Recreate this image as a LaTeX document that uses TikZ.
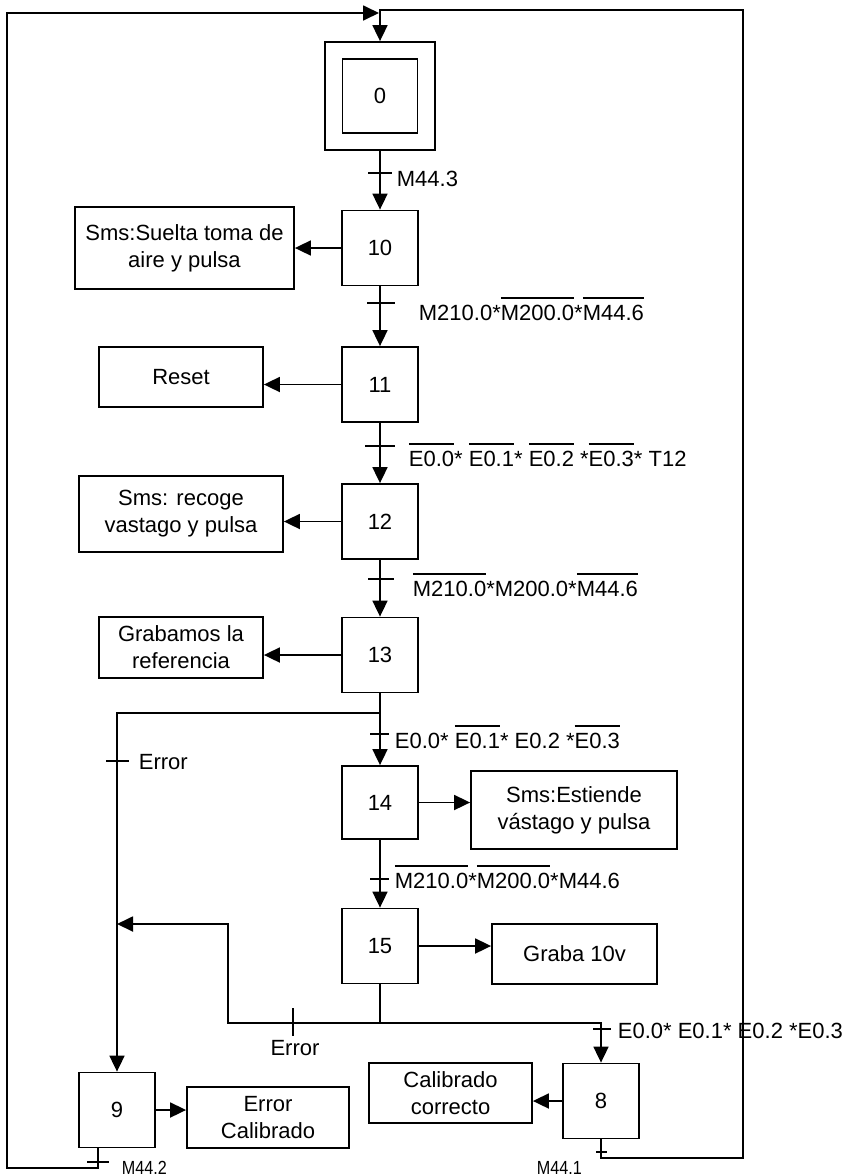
\documentclass[tikz,border=0pt]{standalone}
\usepackage{fontspec}
\setmainfont{Liberation Sans}
\newfontfamily\condfont[FakeStretch=0.85]{Liberation Sans}
\usetikzlibrary{arrows.meta}
\newcommand\ovl[1]{\setbox0\hbox{#1}\rlap{\rule[\dimexpr\ht0+6pt\relax]{\wd0}{1.4pt}}\box0}
\begin{document}
\begin{tikzpicture}[x=1pt,y=-1pt, line width=1.8pt,
  font=\fontsize{22}{27}\selectfont,
  stepbox/.style={draw, minimum width=76pt, minimum height=75pt, inner sep=0pt},
  actbox/.style={draw, align=center, inner sep=0pt},
  arr/.style={-{Triangle[length=16pt,width=15pt]}},
  lbl/.style={anchor=base west, inner sep=0pt},
  smalllbl/.style={anchor=base west, inner sep=0pt, font=\condfont\fontsize{19}{22}\selectfont}]
\useasboundingbox (0,0) rectangle (853,1176);

% steps
\node[stepbox, minimum width=110pt, minimum height=108pt] (s0o) at (380,96) {};
\node[stepbox, minimum width=75pt, minimum height=74pt] (s0) at (380,96) {0};
\node[stepbox] (s10) at (380,248) {10};
\node[stepbox] (s11) at (380,384.5) {11};
\node[stepbox] (s12) at (380,521.5) {12};
\node[stepbox] (s13) at (380,655) {13};
\node[stepbox, minimum height=73pt] (s14) at (380,802.5) {14};
\node[stepbox] (s15) at (380,946) {15};
\node[stepbox] (s9) at (117,1110) {9};
\node[stepbox] (s8) at (601,1101) {8};

% actions
\node[actbox, minimum width=219pt, minimum height=82pt] (a10) at (184.5,248) {Sms:Suelta toma de\\aire y pulsa};
\node[actbox, minimum width=164pt, minimum height=60pt] (a11) at (181,377) {Reset};
\node[actbox, minimum width=204pt, minimum height=76pt] (a12) at (181,514) {Sms: recoge\\vastago y pulsa};
\node[actbox, minimum width=164pt, minimum height=61pt] (a13) at (181,647.5) {Grabamos la\\referencia};
\node[actbox, minimum width=206pt, minimum height=78pt] (a14) at (574,810) {Sms:Estiende\\vástago y pulsa};
\node[actbox, minimum width=165pt, minimum height=60pt] (a15) at (574.5,954) {Graba 10v};
\node[actbox, minimum width=162pt, minimum height=61pt] (a9) at (268,1117.5) {Error\\Calibrado};
\node[actbox, minimum width=163pt, minimum height=60pt] (a8) at (450.5,1093) {Calibrado\\correcto};

% action arrows
\draw[arr] (s10.west) -- (s10.west -| a10.east);
\draw[arr] (s11.west) -- (s11.west -| a11.east);
\draw[arr] (s12.west) -- (s12.west -| a12.east);
\draw[arr] (s13.west) -- (s13.west -| a13.east);
\draw[arr] (s14.east) -- (s14.east -| a14.west);
\draw[arr] (s15.east) -- (s15.east -| a15.west);
\draw[arr] (s9.east) -- (s9.east -| a9.west);
\draw[arr] (s8.west) -- (s8.west -| a8.east);

% main sequence
\draw[arr] (s0o.south) -- (s10.north);
\draw[arr] (s10.south) -- (s11.north);
\draw[arr] (s11.south) -- (s12.north);
\draw[arr] (s12.south) -- (s13.north);
\coordinate (b13) at (380,713);
\draw (s13.south) -- (b13);
\draw[arr] (b13) -- (s14.north);
\draw[arr] (b13) -| (s9.north);
\draw[arr] (s14.south) -- (s15.north);
\coordinate (j15) at (380,1023);
\coordinate (e15) at (228,1023);
\coordinate (e15t) at (228,924);
\coordinate (e9) at (117,924);
\draw (s15.south) -- (j15);
\draw[arr] (j15) -- (e15) -- (e15t) -- (e9);
\draw[arr] (j15) -| (s8.north);

% loops back to step 0
\coordinate (s9b) at (98,1148);
\coordinate (s9c) at (98,1168);
\coordinate (ll) at (7,1168);
\coordinate (lt) at (7,13);
\coordinate (lend) at (379,13);
\draw[arr] (s9b) -- (s9c) -- (ll) -- (lt) -- (lend);
\coordinate (s8c) at (601,1158);
\coordinate (rb) at (743,1158);
\coordinate (rt) at (743,10);
\coordinate (top) at (380,10);
\draw[arr] (s8.south) -- (s8c) -- (rb) -- (rt) -- (top) -- (s0o.north);

% transition ticks
\draw (368,173) -- (392,173);
\draw (367,303) -- (395,303);
\draw (365,446) -- (395,446);
\draw (368,579) -- (394,579);
\draw (370,734) -- (389,734);
\draw (370,879) -- (389,879);
\draw (106,761) -- (129,761);
\draw (293,1008) -- (293,1036);
\draw (593,1029) -- (611,1029);
\draw (87,1162) -- (109,1162);
\draw (596,1152) -- (607,1152);

% transition labels
\node[lbl] (t1) at (396,186) {M44.3};
\node[lbl] (t2) at (418,320) {M210.0*\ovl{M200.0}*\ovl{M44.6}};
\node[lbl] (t3) at (408,466) {\ovl{E0.0}* \ovl{E0.1}* \ovl{E0.2}\ *\ovl{E0.3}* T12};
\node[lbl] (t4) at (412,596) {\ovl{M210.0}*M200.0*\ovl{M44.6}};
\node[lbl] (t5) at (394,748) {E0.0* \ovl{E0.1}* E0.2 *\ovl{E0.3}};
\node[lbl] (t6) at (394,888) {\ovl{M210.0}*\ovl{M200.0}*M44.6};
\node[lbl] (t7) at (138,769) {Error};
\node[anchor=base, inner sep=0pt] (t8) at (295,1055) {Error};
\node[lbl] (t9) at (617,1038) {E0.0* E0.1* E0.2 *E0.3};
\node[smalllbl] (t10) at (121,1174) {M44.2};
\node[smalllbl] (t11) at (536,1174) {M44.1};
\end{tikzpicture}
\end{document}
